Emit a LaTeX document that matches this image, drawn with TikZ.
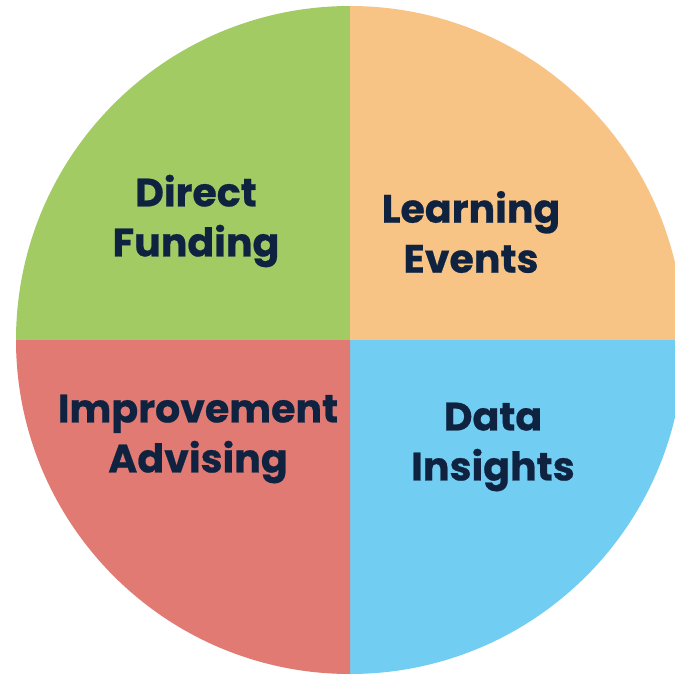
\documentclass[tikz,border=0pt]{standalone}
\usepackage{fontspec}
\setmainfont{Poppins}[BoldFont={* Bold},BoldFeatures={FakeBold=0.6}]
\definecolor{cgreen}{HTML}{A3CB64}
\definecolor{corange}{HTML}{F8C485}
\definecolor{cred}{HTML}{E07A72}
\definecolor{cblue}{HTML}{72CDF2}
\definecolor{cnavy}{HTML}{0F2341}
\begin{document}
\begin{tikzpicture}[x=1pt,y=-1pt,
  lbl/.style={text=cnavy,font=\bfseries\fontsize{39.5}{50}\selectfont,align=center,inner sep=0pt}]
\useasboundingbox (0,0) rectangle (675,675);
\clip (0,0) rectangle (675,675);
\coordinate (c) at (350,340);
\fill[cgreen] (c) -- (16,340) arc[start angle=180,end angle=270,radius=334] -- cycle;
\fill[corange] (c) -- (350,6) arc[start angle=270,end angle=360,radius=334] -- cycle;
\fill[cblue] (c) -- (684,340) arc[start angle=0,end angle=90,radius=334] -- cycle;
\fill[cred] (c) -- (350,674) arc[start angle=90,end angle=180,radius=334] -- cycle;
\node[lbl] (df) at (196,221) {Direct\\Funding};
\node[lbl] (le) at (471,232) {Learning\\Events};
\node[lbl] (ia) at (198,439) {Improvement\\Advising};
\node[lbl] (di) at (493,447) {Data\\Insights};
\end{tikzpicture}
\end{document}
